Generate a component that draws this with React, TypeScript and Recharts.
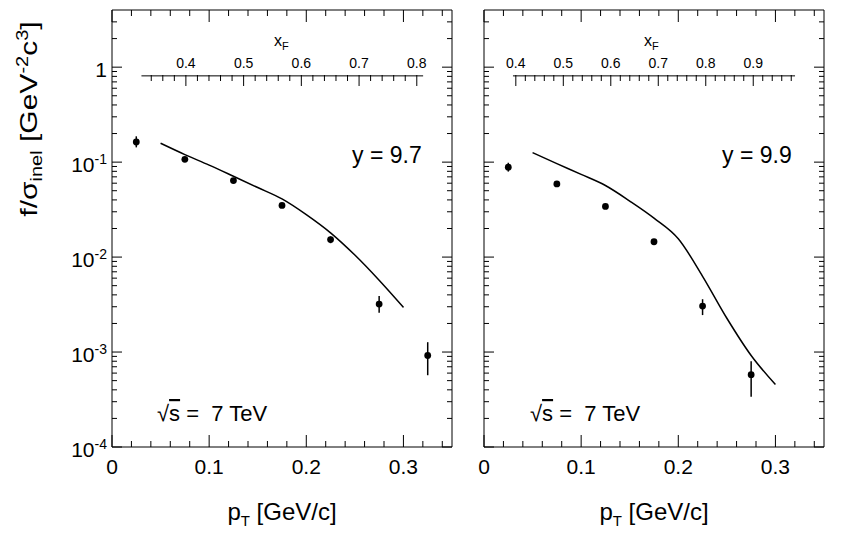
import React from 'react'
import { ComposedChart, Line, Scatter, ErrorBar, XAxis, YAxis } from 'recharts'

const FONT = '"Liberation Sans", Arial, Helvetica, sans-serif'

// p_T axis [GeV/c]
const PT_TICKS = [0, 0.02, 0.04, 0.06, 0.08, 0.1, 0.12, 0.14, 0.16, 0.18, 0.2, 0.22, 0.24, 0.26, 0.28, 0.3, 0.32, 0.34]
const PT_LABELS = [0, 0.1, 0.2, 0.3]

// log y axis
const Y_TICKS = [
  0.0001, 0.0002, 0.0003, 0.0004, 0.0005, 0.0006, 0.0007, 0.0008, 0.0009,
  0.001, 0.002, 0.003, 0.004, 0.005, 0.006, 0.007, 0.008, 0.009,
  0.01, 0.02, 0.03, 0.04, 0.05, 0.06, 0.07, 0.08, 0.09,
  0.1, 0.2, 0.3, 0.4, 0.5, 0.6, 0.7, 0.8, 0.9,
  1, 2, 3,
]
const Y_DECADES = [0.0001, 0.001, 0.01, 0.1, 1]
const Y_EXP = ['-4', '-3', '-2', '-1', '']

// x_F axes drawn inside the frames (at f ~ 0.81)
const XF_LEVEL = 0.81
const XF_TICKS_97 = [0.34, 0.36, 0.38, 0.4, 0.42, 0.44, 0.46, 0.48, 0.5, 0.52, 0.54, 0.56, 0.58, 0.6, 0.62, 0.64, 0.66, 0.68, 0.7, 0.72, 0.74, 0.76, 0.78, 0.8]
const XF_LABELS_97 = [0.4, 0.5, 0.6, 0.7, 0.8]
const XF_RANGE_97 = [0.323, 0.811]
const XF_DOMAIN_97 = [0.272, 0.861]

const XF_TICKS_99 = [0.4, 0.42, 0.44, 0.46, 0.48, 0.5, 0.52, 0.54, 0.56, 0.58, 0.6, 0.62, 0.64, 0.66, 0.68, 0.7, 0.72, 0.74, 0.76, 0.78, 0.8, 0.82, 0.84, 0.86, 0.88, 0.9, 0.92, 0.94, 0.96, 0.98]
const XF_LABELS_99 = [0.4, 0.5, 0.6, 0.7, 0.8, 0.9]
const XF_RANGE_99 = [0.394, 0.988]
const XF_DOMAIN_99 = [0.333, 1.049]

// measured points
const PT_97 = [0.025, 0.075, 0.125, 0.175, 0.225, 0.275, 0.325]
const F_97 = [0.163, 0.107, 0.064, 0.035, 0.0153, 0.0032, 0.00092]
const LO_97 = [0.02, 0.006, 0.003, 0.0015, 0.0013, 0.0006, 0.00035]
const HI_97 = [0.024, 0.006, 0.003, 0.0015, 0.0012, 0.0007, 0.00035]

const PT_99 = [0.025, 0.075, 0.125, 0.175, 0.225, 0.275]
const F_99 = [0.0885, 0.059, 0.0342, 0.0145, 0.00305, 0.000578]
const LO_99 = [0.009, 0.004, 0.0015, 0.0008, 0.0006, 0.00024]
const HI_99 = [0.01, 0.004, 0.0015, 0.0008, 0.00055, 0.00022]

// model curves
const MODEL_PT = [0.05, 0.075, 0.1, 0.125, 0.15, 0.175, 0.2, 0.225, 0.25, 0.275, 0.3]
const MODEL_97 = [0.158, 0.12, 0.093, 0.071, 0.054, 0.041, 0.028, 0.018, 0.0105, 0.0057, 0.00295]
const MODEL_99 = [0.126, 0.0964, 0.0743, 0.0567, 0.0389, 0.0257, 0.0156, 0.00628, 0.00227, 0.00092, 0.000455]

const CHART_H = 539
const X_AXIS_H = 92
const PLOT_TOP = 10
const PLOT_W = 340
const PLOT_H = CHART_H - X_AXIS_H - PLOT_TOP
const XF_OFFSET = 66

const isMajorPt = (v: number) => PT_LABELS.some((l) => Math.abs(l - v) < 1e-9)

// bottom ticks, plus the mirrored inward ticks on the top edge
function BottomTick({ x, y, payload }: any) {
  const major = isMajorPt(payload.value)
  const len = major ? 12 : 6
  const top = y - PLOT_H
  return (
    <g>
      <line x1={x} x2={x} y1={y} y2={y - len} stroke="#000" />
      <line x1={x} x2={x} y1={top} y2={top + len} stroke="#000" />
      {major && (
        <text x={x} y={y + 27} textAnchor="middle" fontSize={21} fontFamily={FONT} fill="#000">
          {payload.value === 0 ? '0' : payload.value.toFixed(1)}
        </text>
      )}
    </g>
  )
}

// left ticks, plus the mirrored inward ticks on the right edge
function makeLeftTick(showLabels: boolean) {
  return function LeftTick({ x, y, payload }: any) {
    const i = Y_DECADES.indexOf(payload.value)
    const major = i >= 0
    const len = major ? 10 : 5
    const right = x + PLOT_W
    return (
      <g>
        <line x1={x} x2={x + len} y1={y} y2={y} stroke="#000" />
        <line x1={right} x2={right - len} y1={y} y2={y} stroke="#000" />
        {major && showLabels && (
          <text x={x - 5} y={y + 10} textAnchor="end" fontSize={21} fontFamily={FONT} fill="#000">
            {Y_EXP[i] === '' ? '1' : '10'}
            {Y_EXP[i] !== '' && (
              <tspan dy={-8} fontSize={14}>
                {Y_EXP[i]}
              </tspan>
            )}
          </text>
        )}
      </g>
    )
  }
}

function makeXfTick(labels: number[]) {
  return function XfTick({ x, y, payload }: any) {
    const v = payload.value
    const y0 = y + XF_OFFSET
    const major = labels.some((l) => Math.abs(l - v) < 1e-9)
    return (
      <g>
        <line x1={x} x2={x} y1={y0} y2={y0 + (major ? 11 : 6)} stroke="#000" />
        {major && (
          <text x={x} y={y0 - 7.5} textAnchor="middle" fontSize={14} fontFamily={FONT} fill="#000">
            {v.toFixed(1)}
          </text>
        )}
      </g>
    )
  }
}

const DataDot = ({ cx, cy }: any) => <circle cx={cx} cy={cy} r={3.4} fill="#000" />

interface PanelProps {
  left: number
  width: number
  yAxisWidth: number
  showYLabels: boolean
  pts: number[]
  vals: number[]
  lo: number[]
  hi: number[]
  model: number[]
  xfTicks: number[]
  xfLabels: number[]
  xfRange: number[]
  xfDomain: number[]
}

function Panel(p: PanelProps) {
  const points = p.pts.map((pt, i) => ({ pt, f: p.vals[i], err: [p.lo[i], p.hi[i]] }))
  const curve = MODEL_PT.map((pt, i) => ({ pt, f: p.model[i] }))
  const xfLine = p.xfRange.map((pt) => ({ pt, f: XF_LEVEL }))
  return (
    <div style={{ position: 'absolute', left: p.left, top: 0 }}>
      {/* two 1px top axes + 8px margin put the frame top at y=10 */}
      <ComposedChart width={p.width} height={CHART_H} margin={{ top: PLOT_TOP - 2, right: 7, bottom: 0, left: 0 }}>
        <XAxis
          dataKey="pt"
          type="number"
          domain={[0, 0.35]}
          allowDataOverflow
          ticks={PT_TICKS}
          interval={0}
          tickSize={0}
          tickMargin={0}
          tickLine={false}
          axisLine={{ stroke: '#000' }}
          height={X_AXIS_H}
          tick={BottomTick}
        />
        <XAxis
          xAxisId="xf"
          dataKey="pt"
          orientation="top"
          type="number"
          domain={p.xfDomain}
          allowDataOverflow
          ticks={p.xfTicks}
          interval={0}
          tickSize={0}
          tickMargin={0}
          tickLine={false}
          axisLine={false}
          height={1}
          tick={makeXfTick(p.xfLabels)}
        />
        <XAxis
          xAxisId="top"
          dataKey="pt"
          orientation="top"
          type="number"
          domain={[0, 0.35]}
          allowDataOverflow
          tickLine={false}
          tick={false}
          axisLine={{ stroke: '#000' }}
          height={1}
        />
        <YAxis
          type="number"
          scale="log"
          domain={[0.0001, 4]}
          allowDataOverflow
          ticks={Y_TICKS}
          interval={0}
          tickSize={0}
          tickMargin={0}
          tickLine={false}
          axisLine={{ stroke: '#000' }}
          width={p.yAxisWidth}
          tick={makeLeftTick(p.showYLabels)}
        />
        <YAxis
          yAxisId="right"
          orientation="right"
          type="number"
          scale="log"
          domain={[0.0001, 4]}
          allowDataOverflow
          tickLine={false}
          tick={false}
          axisLine={{ stroke: '#000' }}
          width={1}
        />
        {/* x_F axis line, on its own x scale */}
        <Line
          xAxisId="xf"
          data={xfLine}
          dataKey="f"
          type="linear"
          stroke="#000"
          strokeWidth={1}
          dot={false}
          isAnimationActive={false}
        />
        <Line
          xAxisId="top"
          yAxisId="right"
          data={curve}
          dataKey="f"
          type="monotone"
          stroke="#000"
          strokeWidth={1.5}
          dot={false}
          isAnimationActive={false}
        />
        <Scatter data={points} dataKey="f" shape={DataDot} isAnimationActive={false}>
          <ErrorBar dataKey="err" direction="y" width={0} stroke="#000" strokeWidth={1.5} isAnimationActive={false} />
        </Scatter>
      </ComposedChart>
    </div>
  )
}

export default function App() {
  const txt = { fontFamily: FONT, fill: '#000' }
  return (
    <div style={{ position: 'absolute', left: 0, top: 0, width: 845, height: 539, background: '#fff' }}>
      <Panel
        left={0}
        width={460}
        yAxisWidth={112}
        showYLabels
        pts={PT_97}
        vals={F_97}
        lo={LO_97}
        hi={HI_97}
        model={MODEL_97}
        xfTicks={XF_TICKS_97}
        xfLabels={XF_LABELS_97}
        xfRange={XF_RANGE_97}
        xfDomain={XF_DOMAIN_97}
      />
      <Panel
        left={452}
        width={380}
        yAxisWidth={32}
        showYLabels={false}
        pts={PT_99}
        vals={F_99}
        lo={LO_99}
        hi={HI_99}
        model={MODEL_99}
        xfTicks={XF_TICKS_99}
        xfLabels={XF_LABELS_99}
        xfRange={XF_RANGE_99}
        xfDomain={XF_DOMAIN_99}
      />
      <svg width={845} height={539} style={{ position: 'absolute', left: 0, top: 0, pointerEvents: 'none' }}>
        <text transform="translate(37,119) rotate(-90) scale(1.25,1)" textAnchor="middle" fontSize={24} {...txt}>
          f/σ
          <tspan dy={5} fontSize={16}>inel</tspan>
          <tspan dy={-5}> [GeV</tspan>
          <tspan dy={-9} fontSize={16}>-2</tspan>
          <tspan dy={9}>c</tspan>
          <tspan dy={-9} fontSize={16}>3</tspan>
          <tspan dy={9}>]</tspan>
        </text>

        <text x={282} y={520} textAnchor="middle" fontSize={24} {...txt}>
          p<tspan dy={6} fontSize={15}>T</tspan>
          <tspan dy={-6}> [GeV/c]</tspan>
        </text>
        <text x={654} y={520} textAnchor="middle" fontSize={24} {...txt}>
          p<tspan dy={6} fontSize={15}>T</tspan>
          <tspan dy={-6}> [GeV/c]</tspan>
        </text>

        <text x={274} y={46} fontSize={16} {...txt}>
          x<tspan dy={4} fontSize={11}>F</tspan>
        </text>
        <text x={644} y={46} fontSize={16} {...txt}>
          x<tspan dy={4} fontSize={11}>F</tspan>
        </text>

        <text x={352} y={163} fontSize={23} {...txt}>y = 9.7</text>
        <text x={722} y={163} fontSize={23} {...txt}>y = 9.9</text>

        <text x={157} y={421} fontSize={22} style={{ whiteSpace: 'pre' }} {...txt}>
          √<tspan textDecoration="overline">s</tspan>{' =  7 TeV'}
        </text>
        <text x={530} y={421} fontSize={22} style={{ whiteSpace: 'pre' }} {...txt}>
          √<tspan textDecoration="overline">s</tspan>{' =  7 TeV'}
        </text>
      </svg>
    </div>
  )
}
